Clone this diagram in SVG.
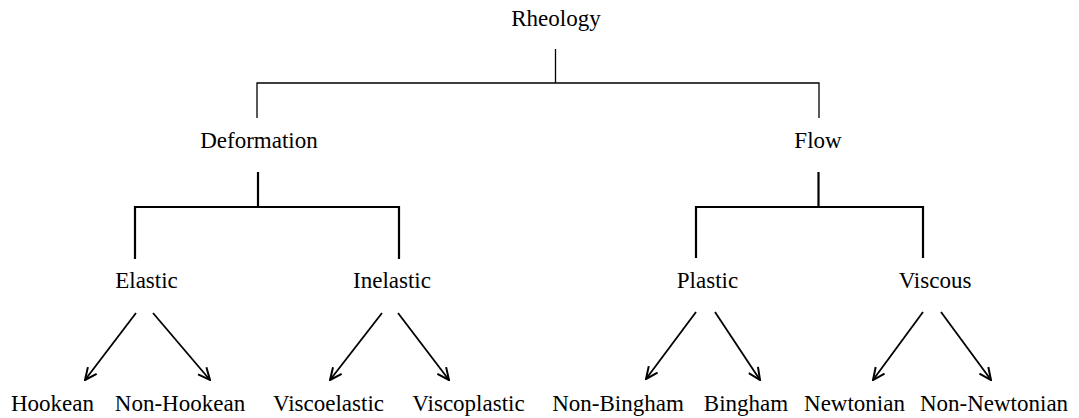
<svg xmlns="http://www.w3.org/2000/svg" width="1079" height="418" viewBox="0 0 1079 418">
<style>
text{font-family:"Liberation Serif","Times New Roman",serif;font-size:23px;fill:#000;text-anchor:middle}
.t1{stroke:#000;stroke-width:1.3;fill:none}
.t2{stroke:#000;stroke-width:2.2;fill:none}
.ar{stroke:#000;stroke-width:1.8;fill:none;marker-end:url(#ah)}
</style>
<defs>
<marker id="ah" viewBox="0 0 14 14" refX="13" refY="7" markerWidth="14" markerHeight="14" markerUnits="userSpaceOnUse" orient="auto">
<path d="M1,1.5 L13,7 L1,12.5" fill="none" stroke="#000" stroke-width="2"/>
</marker>
</defs>
<rect width="1079" height="418" fill="#fff"/>
<g id="connectors">
<path class="t1" d="M555.5,49 V83 M257,118 V83 H819 V118"/>
<path class="t2" d="M258,172 V207 M135,259 V207 H399 V259"/>
<path class="t2" d="M818.5,172 V207 M696,258 V207 H923 V258"/>
<line class="ar" x1="136" y1="313" x2="85" y2="380"/>
<line class="ar" x1="153" y1="313" x2="210" y2="380"/>
<line class="ar" x1="382" y1="313" x2="330" y2="380"/>
<line class="ar" x1="398" y1="313" x2="449" y2="380"/>
<line class="ar" x1="696" y1="312" x2="646" y2="379"/>
<line class="ar" x1="715" y1="312" x2="760" y2="380"/>
<line class="ar" x1="923" y1="312" x2="873" y2="380"/>
<line class="ar" x1="941" y1="312" x2="991" y2="380"/>
</g>
<g id="rheology"><text x="556" y="26">Rheology</text></g>
<g id="deformation"><text x="259" y="148">Deformation</text></g>
<g id="flow"><text x="818" y="148">Flow</text></g>
<g id="elastic"><text x="146.5" y="288">Elastic</text></g>
<g id="inelastic"><text x="392" y="288">Inelastic</text></g>
<g id="plastic"><text x="707.5" y="288">Plastic</text></g>
<g id="viscous"><text x="935" y="288">Viscous</text></g>
<g id="hookean"><text x="52.5" y="411">Hookean</text></g>
<g id="non-hookean"><text x="180" y="411">Non-Hookean</text></g>
<g id="viscoelastic"><text x="328.5" y="411">Viscoelastic</text></g>
<g id="viscoplastic"><text x="468.5" y="411">Viscoplastic</text></g>
<g id="non-bingham"><text x="618" y="411">Non-Bingham</text></g>
<g id="bingham"><text x="746" y="411">Bingham</text></g>
<g id="newtonian"><text x="854.5" y="411">Newtonian</text></g>
<g id="non-newtonian"><text x="994" y="411">Non-Newtonian</text></g>
</svg>
